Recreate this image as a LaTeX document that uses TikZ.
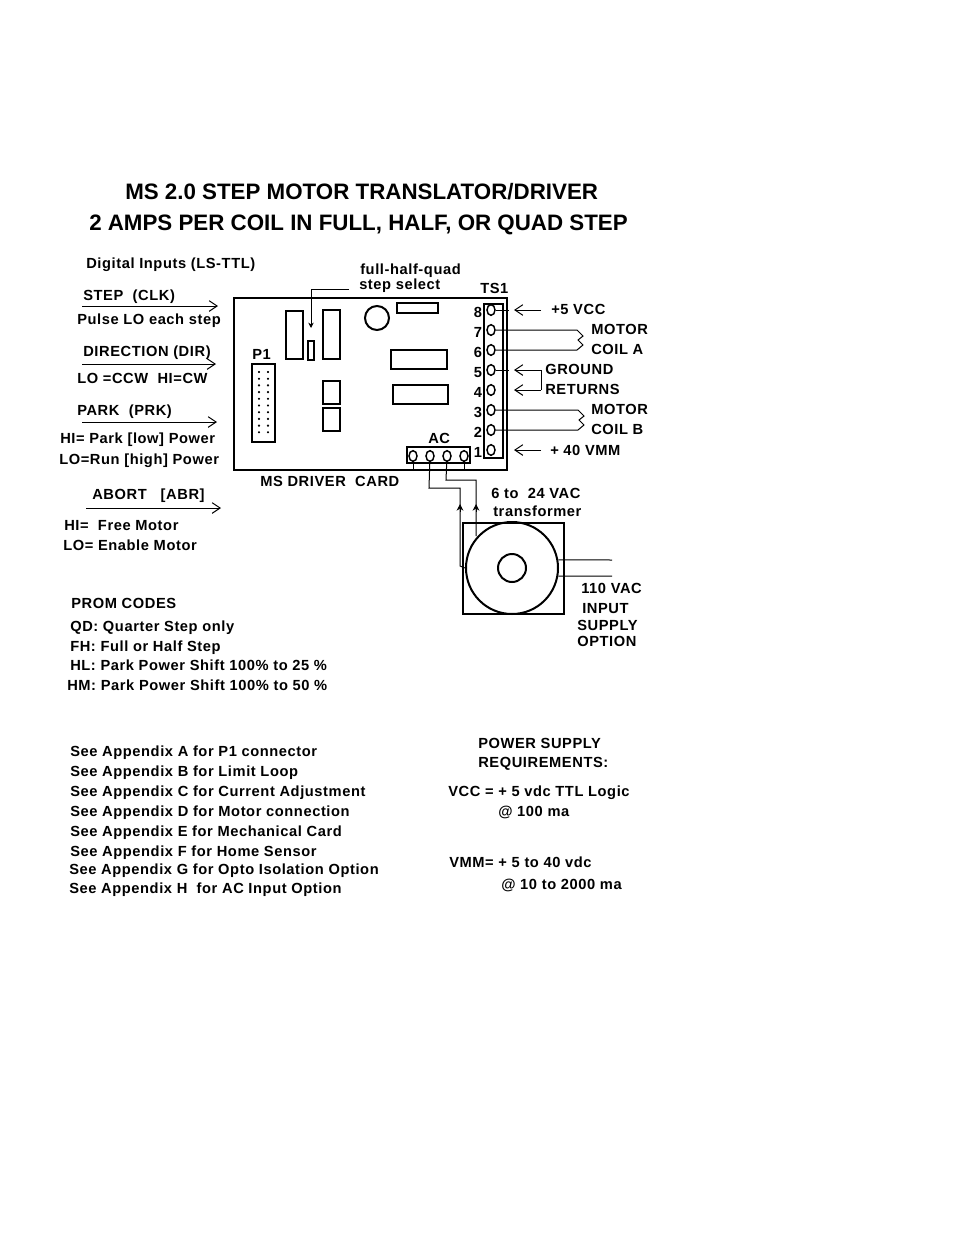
\documentclass[tikz,border=0pt]{standalone}
\usepackage{fontspec}
\setmainfont{Liberation Sans}
\newfontfamily\labfont{Liberation Sans Bold}[LetterSpace=4]
\usetikzlibrary{arrows.meta}
\usetikzlibrary{shapes.geometric}
\tikzset{
	lab/.style={anchor=west,inner sep=0pt,text height=8pt,text depth=0pt,font=\labfont\fontsize{11}{12}\selectfont},
	headline/.style={anchor=west,inner sep=0pt,text height=12pt,text depth=0pt,font=\bfseries\fontsize{16.75}{18}\selectfont},
	part/.style={draw=black,line width=1.5pt},
	wire/.style={draw=black,line width=.75pt},
	feed/.style={wire,-{Straight Barb[length=6pt,width=8pt]}},
	post/.style={draw=black,line width=1.1pt,ellipse,minimum width=6pt,minimum height=8pt,inner sep=0pt}
}
\begin{document}
\begin{tikzpicture}[x=.75pt,y=-.75pt]
	\useasboundingbox (0,0) rectangle (954,1235);
	% title
	\node[headline] (title1) at (125,191) {MS 2.0 STEP MOTOR TRANSLATOR/DRIVER};
	\node[headline] (title2) at (89,222) {2 AMPS PER COIL IN FULL, HALF, OR QUAD STEP};
	% inputs on the left
	\node[lab] (inputs) at (86,263) {Digital Inputs (LS-TTL)};
	\node[lab] (steplab) at (83,295) {STEP\ \ (CLK)};
	\node[lab] (stepnote) at (77,319) {Pulse LO each step};
	\node[lab] (dirlab) at (83,351) {DIRECTION (DIR)};
	\node[lab] (dirnote) at (77,378) {LO =CCW\ \ HI=CW};
	\node[lab] (prklab) at (77,410) {PARK\ \ (PRK)};
	\node[lab] (prknote1) at (60,438) {HI= Park [low] Power};
	\node[lab] (prknote2) at (59,459) {LO=Run [high] Power};
	\node[lab] (abrlab) at (92,494) {ABORT\ \ \ [ABR]};
	\node[lab] (abrnote1) at (64,525) {HI=\ \ Free Motor};
	\node[lab] (abrnote2) at (63,545) {LO= Enable Motor};
	\coordinate (stepA) at (82,306);
	\coordinate (stepB) at (218,306);
	\coordinate (dirA) at (82,364);
	\coordinate (dirB) at (216,364);
	\coordinate (prkA) at (82,422);
	\coordinate (prkB) at (217,422);
	\coordinate (abrA) at (86,508);
	\coordinate (abrB) at (221,508);
	\draw[feed] (stepA)--(stepB);
	\draw[feed] (dirA)--(dirB);
	\draw[feed] (prkA)--(prkB);
	\draw[feed] (abrA)--(abrB);
	% driver card
	\draw[part] (234,298) rectangle (507,470);
	\node[lab] (cardlab) at (260,481) {MS DRIVER\ \ CARD};
	\draw[part] (286,311) rectangle (303,359);
	\draw[part] (323,310) rectangle (340,359);
	\draw[part] (308,341) rectangle (314,360);
	\draw[part] (397,303) rectangle (438,313);
	\draw[part] (391,350) rectangle (447,369);
	\draw[part] (393,385) rectangle (448,404);
	\draw[part] (323,381) rectangle (340,404);
	\draw[part] (323,408) rectangle (340,431);
	\draw[part] (377,318) circle (12);
	\node[lab] (sel1) at (360,269) {full-half-quad};
	\node[lab] (sel2) at (359,284) {step select};
	\coordinate (selA) at (349,289);
	\coordinate (selB) at (311,328);
	\draw[wire,-{Stealth[length=4pt,width=4pt]}] (selA)-|(selB);
	% P1 connector
	\node[lab] (p1lab) at (252,354) {P1};
	\draw[part] (252,364) rectangle (275,442);
	\foreach \y in {372,378.7,...,433}{
		\filldraw[black] (259,\y) circle (.8);
		\filldraw[black] (268,\y) circle (.8);
	}
	% TS1 terminals
	\node[lab] (ts1lab) at (480,288) {TS1};
	\draw[part] (484,304) rectangle (503,458);
	\foreach \n/\y in {8/310,7/330,6/350,5/370,4/390,3/410,2/430,1/450}{
		\node[post] (t\n) at (491,\y) {};
		\node[lab,anchor=center] (d\n) at (478,\y+2) {\n};
	}
	\coordinate (r8) at (514,310);
	\coordinate (f8) at (541,310);
	\coordinate (r5) at (514,370);
	\coordinate (f5) at (541,370);
	\coordinate (r4) at (514,390);
	\coordinate (f4) at (541,390);
	\coordinate (r1) at (514,450);
	\coordinate (f1) at (541,450);
	\draw[wire] (t8)--(509,310);
	\draw[wire] (t5)--(509,370);
	\draw[feed] (f8)--(r8);
	\draw[feed] (f5)--(r5);
	\draw[feed] (f4)--(r4);
	\draw[feed] (f1)--(r1);
	\draw[wire] (f5)--(f4);
	\draw[wire] (t7)--(577,330)--(583,336)--(578,340)--(583,345)--(577,350)--(t6);
	\draw[wire] (t3)--(578,410)--(584,416)--(579,420)--(584,425)--(578,430)--(t2);
	\node[lab] (vcc) at (551,309.5) {+5 VCC};
	\node[lab] (mota) at (591,329.5) {MOTOR};
	\node[lab] (coila) at (591,349.5) {COIL A};
	\node[lab] (gnd1) at (545,369.5) {GROUND};
	\node[lab] (gnd2) at (545,389.5) {RETURNS};
	\node[lab] (motb) at (591,409.5) {MOTOR};
	\node[lab] (coilb) at (591,429.5) {COIL B};
	\node[lab] (vmm) at (550,450) {+ 40 VMM};
	% AC connector and transformer
	\node[lab] (aclab) at (428,438) {AC};
	\draw[part] (407,447) rectangle (470,463);
	\foreach \n/\x in {1/413,2/430,3/447,4/464}{
		\node[post] (ac\n) at (\x,456) {};
	}
	\draw[wire] (ac1)--(413,470);
	\draw[wire] (ac4)--(464,470);
	\draw[part] (463,523) rectangle (564,614);
	\node[circle,draw=black,line width=1.5pt,inner sep=0pt,minimum size=69pt] (core) at (512,568) {};
	\node[circle,draw=black,line width=1.5pt,inner sep=0pt,minimum size=21pt] (hole) at (512,568) {};
	\draw[wire] (ac2)--(429,488)--(460,488)--(460,566)--(core.west);
	\draw[wire] (ac3)--(446,480)--(476,480)--(476,536);
	\draw[wire,-{Stealth[length=5pt,width=5pt]}] (460,512)--(460,504);
	\draw[wire,-{Stealth[length=5pt,width=5pt]}] (476,512)--(476,504);
	\draw[wire] (core.10)--(612,560);
	\draw[wire] (core.-10)--(612,576);
	\node[lab] (vac1) at (491,493) {6 to\ \ 24 VAC};
	\node[lab] (vac2) at (493,511) {transformer};
	\node[lab] (in1) at (581,588) {110 VAC};
	\node[lab] (in2) at (582,608) {INPUT};
	\node[lab] (in3) at (577,625) {SUPPLY};
	\node[lab] (in4) at (577,641) {OPTION};
	% prom codes
	\node[lab] (prom) at (71,603) {PROM CODES};
	\node[lab] (prom1) at (70,626) {QD: Quarter Step only};
	\node[lab] (prom2) at (70,646) {FH: Full or Half Step};
	\node[lab] (prom3) at (70,665) {HL: Park Power Shift 100\% to 25 \%};
	\node[lab] (prom4) at (67,685) {HM: Park Power Shift 100\% to 50 \%};
	% appendix list
	\node[lab] (appA) at (70,751) {See Appendix A for P1 connector};
	\node[lab] (appB) at (70,771) {See Appendix B for Limit Loop};
	\node[lab] (appC) at (70,791) {See Appendix C for Current Adjustment};
	\node[lab] (appD) at (70,811) {See Appendix D for Motor connection};
	\node[lab] (appE) at (70,831) {See Appendix E for Mechanical Card};
	\node[lab] (appF) at (70,851) {See Appendix F for Home Sensor};
	\node[lab] (appG) at (69,869) {See Appendix G for Opto Isolation Option};
	\node[lab] (appH) at (69,888) {See Appendix H\ \ for AC Input Option};
	% power supply
	\node[lab] (pwr1) at (478,743) {POWER SUPPLY};
	\node[lab] (pwr2) at (478,762) {REQUIREMENTS:};
	\node[lab] (pwr3) at (448,791) {VCC = + 5 vdc TTL Logic};
	\node[lab] (pwr4) at (498,811) {@ 100 ma};
	\node[lab] (pwr5) at (449,862) {VMM= + 5 to 40 vdc};
	\node[lab] (pwr6) at (501,884) {@ 10 to 2000 ma};
\end{tikzpicture}
\end{document}
